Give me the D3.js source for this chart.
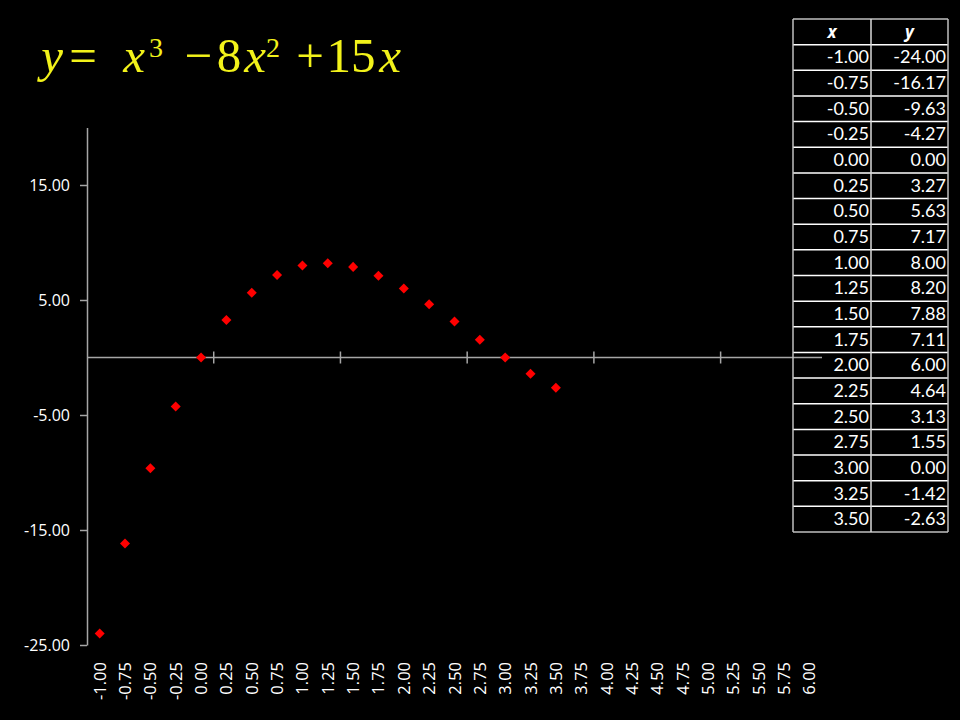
<!DOCTYPE html>
<html>
<head>
<meta charset="utf-8">
<script src="https://cdn.jsdelivr.net/npm/d3@7"></script>
<style>
  html, body { margin: 0; padding: 0; background: #000; }
  svg { display: block; }
</style>
</head>
<body>
<svg id="chart" width="960" height="720"></svg>
<script>
// ---- data ----
const xCategories = ["-1.00","-0.75","-0.50","-0.25","0.00","0.25","0.50","0.75","1.00","1.25","1.50","1.75","2.00","2.25","2.50","2.75","3.00","3.25","3.50","3.75","4.00","4.25","4.50","4.75","5.00","5.25","5.50","5.75","6.00"];
const xValues = ["-1.00","-0.75","-0.50","-0.25","0.00","0.25","0.50","0.75","1.00","1.25","1.50","1.75","2.00","2.25","2.50","2.75","3.00","3.25","3.50"];
const yValues = [-24.00,-16.17,-9.63,-4.27,0.00,3.27,5.63,7.17,8.00,8.20,7.88,7.11,6.00,4.64,3.13,1.55,0.00,-1.42,-2.63];
const yTickValues = [-25, -15, -5, 5, 15];
const yDomain = [-25, 20];
const tableHeaders = ["x", "y"];

const fmt2 = v => d3.format(".2f")(v).replace("\u2212", "-");

const svg = d3.select("#chart");
svg.append("rect").attr("width", 960).attr("height", 720).attr("fill", "#000");

// ---- scales ----
const x = d3.scaleBand().domain(xCategories).range([87, 822]).padding(0);
const y = d3.scaleLinear().domain(yDomain).range([645, 127.5]);
const xc = d => x(d) + x.bandwidth() / 2;

const axisColor = "#a6a6a6";

// ---- y axis ----
const yAxis = d3.axisLeft(y).tickValues(yTickValues).tickSizeInner(7).tickSizeOuter(0)
  .tickPadding(10).tickFormat(fmt2);
const gy = svg.append("g").attr("transform", "translate(87,0)").call(yAxis);
gy.select(".domain").attr("stroke", axisColor).attr("stroke-width", 1.5);
gy.selectAll(".tick line").attr("stroke", axisColor).attr("stroke-width", 1.5);
gy.selectAll(".tick text").attr("fill", "#fff").attr("font-family", "Open Sans")
  .attr("font-size", 16).attr("dy", "0.35em");

// ---- x axis (horizontal at y = 0) ----
const y0 = y(0);
svg.append("line").attr("x1", 87).attr("x2", 822).attr("y1", y0).attr("y2", y0)
  .attr("stroke", axisColor).attr("stroke-width", 1.5);
const xTickCats = xCategories.filter((d, i) => i % 5 === 0 && i > 0);
svg.selectAll(".xtick").data(xTickCats).enter().append("line")
  .attr("class", "xtick")
  .attr("x1", d => x(d)).attr("x2", d => x(d))
  .attr("y1", y0 - 6).attr("y2", y0 + 6)
  .attr("stroke", axisColor).attr("stroke-width", 1.5);

// x labels, rotated
svg.selectAll(".xlab").data(xCategories).enter().append("text")
  .attr("class", "xlab")
  .attr("transform", d => `translate(${xc(d) + 6},662) rotate(-90)`)
  .attr("text-anchor", "end")
  .attr("fill", "#fff").attr("font-family", "Open Sans").attr("font-size", 16.5)
  .text(d => d);

// ---- markers ----
const pts = xValues.map((c, i) => ({ c, v: yValues[i] }));
svg.selectAll(".pt").data(pts).enter().append("path")
  .attr("class", "pt")
  .attr("d", d3.symbol().type(d3.symbolDiamond2).size(64))
  .attr("transform", d => `translate(${xc(d.c)},${y(d.v)})`)
  .attr("fill", "#ff0000");

// ---- table ----
const tbl = { left: 793, mid: 871, right: 948, top: 19, rowH: 25.65 };
const rows = xValues.map((c, i) => [c, fmt2(yValues[i])]);
const nRows = rows.length + 1;
const tg = svg.append("g");
d3.range(nRows + 1).forEach(i => {
  tg.append("line")
    .attr("x1", tbl.left).attr("x2", tbl.right)
    .attr("y1", tbl.top + i * tbl.rowH).attr("y2", tbl.top + i * tbl.rowH)
    .attr("stroke", (i === 0 || i === nRows) ? "#bfbfbf" : "#ffffff")
    .attr("stroke-width", 1.5);
});
[tbl.left, tbl.mid, tbl.right].forEach((xx, i) => {
  tg.append("line")
    .attr("x1", xx).attr("x2", xx)
    .attr("y1", tbl.top).attr("y2", tbl.top + nRows * tbl.rowH)
    .attr("stroke", i === 1 ? "#d9d9d9" : "#bfbfbf").attr("stroke-width", 1.5);
});
tableHeaders.forEach((h, i) => {
  tg.append("text")
    .attr("x", i === 0 ? (tbl.left + tbl.mid) / 2 : (tbl.mid + tbl.right) / 2)
    .attr("y", tbl.top + tbl.rowH / 2 + 6)
    .attr("text-anchor", "middle")
    .attr("fill", "#fff").attr("font-family", "Open Sans").attr("font-size", 17)
    .attr("font-weight", "bold").attr("font-style", "italic")
    .text(h);
});
rows.forEach((r, i) => {
  const yy = tbl.top + (i + 1) * tbl.rowH + tbl.rowH / 2 + 6;
  tg.append("text").attr("x", tbl.mid - 2).attr("y", yy).attr("text-anchor", "end")
    .attr("fill", "#fff").attr("font-family", "Lato").attr("font-size", 18).text(r[0]);
  tg.append("text").attr("x", tbl.right - 2).attr("y", yy).attr("text-anchor", "end")
    .attr("fill", "#fff").attr("font-family", "Lato").attr("font-size", 18).text(r[1]);
});

// ---- title equation (each glyph centred on its place in the reference) ----
const title = svg.append("g")
  .attr("fill", "#f2f21a").attr("font-family", "Liberation Serif")
  .attr("text-anchor", "middle");
const parts = [
  { t: "y", cx: 52, it: true },
  { t: "=", cx: 83 },
  { t: "x", cx: 134, it: true },
  { t: "3", cx: 156, sup: true },
  { t: "\u2212", cx: 198.5 },
  { t: "8", cx: 229 },
  { t: "x", cx: 255, it: true },
  { t: "2", cx: 273, sup: true },
  { t: "+", cx: 310 },
  { t: "15", cx: 351 },
  { t: "x", cx: 390, it: true }
];
parts.forEach(p => {
  title.append("text")
    .attr("x", p.cx).attr("y", p.sup ? 57 : 72)
    .attr("font-size", p.sup ? 28 : 49)
    .attr("font-style", p.it ? "italic" : "normal")
    .text(p.t);
});
</script>
</body>
</html>
